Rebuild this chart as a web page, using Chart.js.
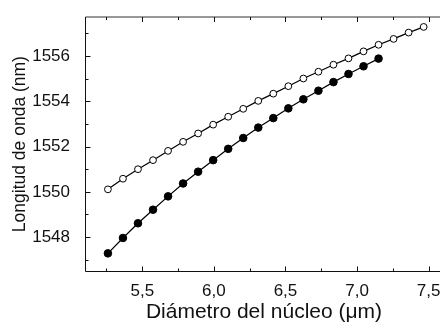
<!DOCTYPE html>
<html>
<head>
<meta charset="utf-8">
<script src="https://cdn.jsdelivr.net/npm/chart.js@4.4.0/dist/chart.umd.min.js"></script>
<style>
  html, body { margin: 0; padding: 0; background: #fff; overflow: hidden; }
  #wrap { width: 450px; height: 327px; }
</style>
</head>
<body>
<div id="wrap"><canvas id="waveChart" width="450" height="327"></canvas></div>
<script>
// core diameter (um)
const diameters = [5.26, 5.365, 5.47, 5.575, 5.68, 5.785, 5.89, 5.995, 6.10, 6.205, 6.31,
  6.415, 6.52, 6.625, 6.73, 6.835, 6.94, 7.045, 7.15, 7.255, 7.36, 7.465];

// wavelength (nm), open markers
const lambdaOpen = [1550.11, 1550.58, 1551.00, 1551.40, 1551.81, 1552.21, 1552.58, 1552.97,
  1553.32, 1553.67, 1554.02, 1554.34, 1554.67, 1555.01, 1555.31, 1555.62, 1555.90, 1556.21,
  1556.50, 1556.76, 1557.04, 1557.29];

// wavelength (nm), filled markers (first 19 diameters)
const lambdaFilled = [1547.28, 1547.96, 1548.61, 1549.21, 1549.80, 1550.37, 1550.89, 1551.40,
  1551.90, 1552.38, 1552.84, 1553.26, 1553.69, 1554.09, 1554.47, 1554.85, 1555.21, 1555.55,
  1555.89];

const xTicks = [5.5, 6.0, 6.5, 7.0, 7.5];
const xMinor = [5.25, 5.75, 6.25, 6.75, 7.25];
const yTicks = [1548, 1550, 1552, 1554, 1556];
const yMinor = [1547, 1549, 1551, 1553, 1555, 1557];

const toPoints = (xs, ys) => ys.map((y, i) => ({ x: xs[i], y: y }));

// frame with inward ticks (bottom/top and left)
const frameTicks = {
  id: "frameTicks",
  afterDraw(chart) {
    const ctx = chart.ctx;
    const a = chart.chartArea;
    const xs = chart.scales.x, ys = chart.scales.y;
    const L = Math.round(a.left) + 0.5, R = Math.round(a.right) + 0.5;
    const T = Math.round(a.top), B = Math.round(a.bottom) + 0.5;
    ctx.save();
    ctx.lineWidth = 1;

    // top edge a little softer
    ctx.strokeStyle = "#333";
    ctx.beginPath();
    ctx.moveTo(L, T); ctx.lineTo(R, T);
    ctx.stroke();

    ctx.strokeStyle = "#111";
    ctx.beginPath();
    ctx.moveTo(L, T); ctx.lineTo(L, B); ctx.lineTo(R, B);

    const xTick = (v, len) => {
      const px = Math.round(xs.getPixelForValue(v)) + 0.5;
      ctx.moveTo(px, B); ctx.lineTo(px, B - len);
      ctx.moveTo(px, T); ctx.lineTo(px, T + len);
    };
    const yTick = (v, len) => {
      const py = Math.round(ys.getPixelForValue(v)) + 0.5;
      ctx.moveTo(L, py); ctx.lineTo(L + len, py);
    };
    xTicks.forEach(v => xTick(v, 5));
    xMinor.forEach(v => xTick(v, 3));
    yTicks.forEach(v => yTick(v, 5));
    yMinor.forEach(v => yTick(v, 3));
    ctx.stroke();
    ctx.restore();
  }
};

const font = { family: "'Liberation Sans', Arial, sans-serif" };

new Chart(document.getElementById("waveChart"), {
  type: "scatter",
  data: {
    datasets: [
      {
        data: toPoints(diameters, lambdaOpen),
        showLine: true,
        borderColor: "#000",
        borderWidth: 1.2,
        pointRadius: 3.4,
        pointBorderWidth: 1,
        pointBackgroundColor: "#fff",
        pointBorderColor: "#000"
      },
      {
        data: toPoints(diameters.slice(0, lambdaFilled.length), lambdaFilled),
        showLine: true,
        borderColor: "#000",
        borderWidth: 1.2,
        pointRadius: 3.8,
        pointBorderWidth: 1,
        pointBackgroundColor: "#000",
        pointBorderColor: "#000"
      }
    ]
  },
  options: {
    responsive: false,
    animation: false,
    layout: { padding: { top: 7, right: 7, left: 0, bottom: 0 } },
    plugins: { legend: { display: false }, tooltip: { enabled: false } },
    scales: {
      x: {
        type: "linear",
        min: 5.1,
        max: 7.6,
        afterBuildTicks: s => { s.ticks = xTicks.map(v => ({ value: v })); },
        afterFit: s => { s.height = 56; },
        grid: { display: false },
        border: { display: false },
        ticks: {
          color: "#111",
          font: { ...font, size: 17 },
          padding: 2,
          maxRotation: 0,
          callback: v => v.toFixed(1).replace(".", ",")
        },
        title: {
          display: true,
          text: "Diámetro del núcleo (μm)",
          color: "#111",
          font: { ...font, size: 21 },
          padding: { top: 0, bottom: 2 }
        }
      },
      y: {
        min: 1546.5,
        max: 1557.72,
        afterBuildTicks: s => { s.ticks = yTicks.map(v => ({ value: v })); },
        afterFit: s => { s.width = 85; },
        grid: { display: false },
        border: { display: false },
        ticks: {
          color: "#111",
          font: { ...font, size: 17 },
          padding: 7,
          callback: v => String(v)
        },
        title: {
          display: true,
          text: "Longitud de onda (nm)",
          color: "#111",
          font: { ...font, size: 17.5 },
          padding: { top: 10, bottom: 0 }
        }
      }
    }
  },
  plugins: [frameTicks]
});
</script>
</body>
</html>
